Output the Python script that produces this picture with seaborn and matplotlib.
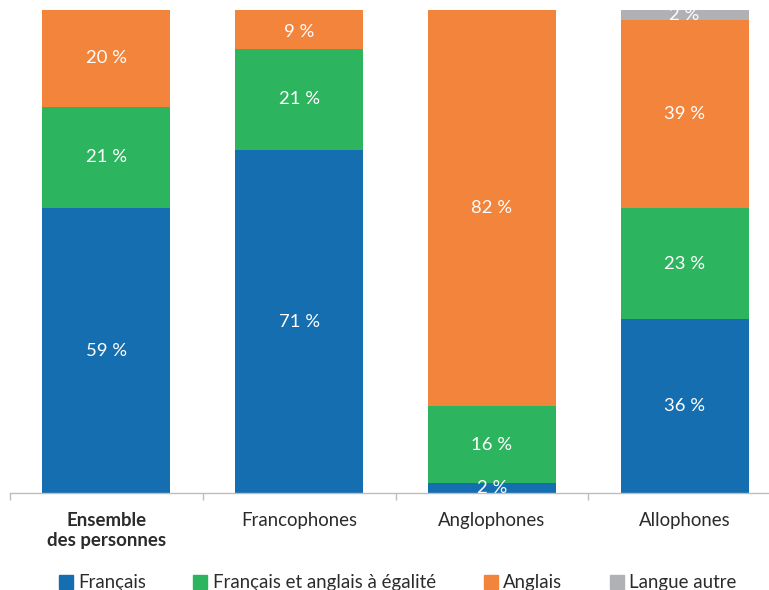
import matplotlib
matplotlib.use("Agg")
import matplotlib.pyplot as plt
import matplotlib.patches as mpatches
import seaborn as sns
import pandas as pd
import numpy as np

groups = ["Ensemble\ndes personnes", "Francophones", "Anglophones", "Allophones"]
series = ["Français", "Français et anglais à égalité", "Anglais", "Langue autre"]
francais = [59, 71, 2, 36]
egalite = [21, 21, 16, 23]
anglais = [20, 9, 82, 39]
autre = [0, 0, 0, 2]
colors = ["#146EAF", "#2DB45F", "#F3843C", "#B0B1B5"]

sns.set_theme(style="white")
plt.rcParams["font.family"] = ["Lato", "DejaVu Sans"]

values = np.array([francais, egalite, anglais, autre], dtype=float)
cum = values.cumsum(axis=0)

fig = plt.figure(figsize=(7.69, 5.90), dpi=100)
ax = fig.add_axes([10 / 769, 97 / 590, 771 / 769, 483 / 590])

# stacked bars: draw cumulative totals from the top layer down
for i in range(len(series) - 1, -1, -1):
    df = pd.DataFrame({"groupe": groups, "total": cum[i]})
    sns.barplot(data=df, x="groupe", y="total", color=colors[i], saturation=1,
                width=0.663, ax=ax, linewidth=0)

ax.set_ylim(0, 100)
ax.set_xlim(-0.5, 3.5)

# value labels centred in each segment
for i in range(len(series)):
    for j in range(len(groups)):
        v = values[i, j]
        if v <= 0:
            continue
        mid = cum[i, j] - v / 2
        if cum[i, j] > 100:
            mid = 100 - v / 2
        ax.text(j, mid, f"{int(v)} %", ha="center", va="center",
                color="white", fontsize=13.3)

ax.set_xlabel("")
ax.set_ylabel("")
ax.set_yticks([])
for s in ["top", "right", "left"]:
    ax.spines[s].set_visible(False)
ax.spines["bottom"].set_color("#BDBDBD")
ax.spines["bottom"].set_linewidth(1)

ax.set_xticks([-0.5, 0.5, 1.5, 2.5, 3.5], minor=True)
ax.tick_params(axis="x", which="minor", bottom=True, length=5, color="#BDBDBD", width=1)
ax.tick_params(axis="x", which="major", bottom=False, pad=8, labelsize=13.4, labelcolor="#2B2B2B")
ax.set_xticks(range(len(groups)))
ax.set_xticklabels(groups)
ax.get_xticklabels()[0].set_fontweight("bold")
for lab in ax.get_xticklabels():
    lab.set_va("top")

handles = [mpatches.Patch(color=c, label=s) for c, s in zip(colors, series)]
fig.legend(handles=handles, loc="center", bbox_to_anchor=(0.517, 0.012), ncol=4,
           frameon=False, fontsize=13.4, handlelength=0.75, handleheight=0.75,
           handletextpad=0.3, columnspacing=2.55, labelcolor="#2B2B2B")

fig.savefig("out.png", dpi=100)
